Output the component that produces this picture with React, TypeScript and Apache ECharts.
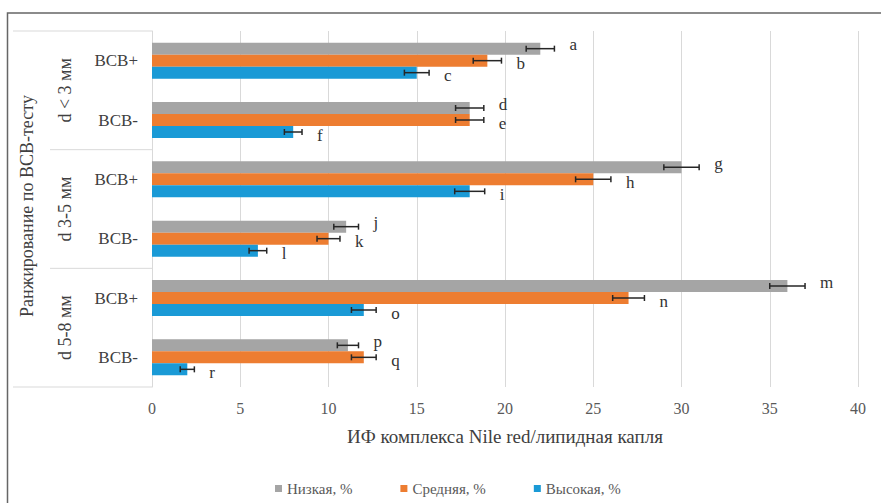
import React, { useEffect, useRef } from 'react';
import * as echarts from 'echarts';

const groups = ['d < 3 мм', 'd 3-5 мм', 'd 5-8 мм'];
const subCategories = ['ВСВ+', 'ВСВ-'];
const categories = groups.flatMap((g) => subCategories.map((s) => `${g}|${s}`));
const seriesNames = ['Низкая, %', 'Средняя, %', 'Высокая, %'];
const lowValues = [22, 18, 30, 11, 36, 11.1];
const midValues = [19, 18, 25, 10, 27, 12];
const highValues = [15, 8, 18, 6, 12, 2];
const lowErrors = [0.8, 0.8, 1.0, 0.7, 1.0, 0.6];
const midErrors = [0.8, 0.8, 1.0, 0.65, 0.9, 0.7];
const highErrors = [0.7, 0.5, 0.85, 0.5, 0.7, 0.4];
const lowLetters = ['a', 'd', 'g', 'j', 'm', 'p'];
const midLetters = ['b', 'e', 'h', 'k', 'n', 'q'];
const highLetters = ['c', 'f', 'i', 'l', 'o', 'r'];
const xMin = 0;
const xMax = 40;
const xInterval = 5;
const xAxisTitle = 'ИФ комплекса Nile red/липидная капля';
const yAxisTitle = 'Ранжирование по ВСВ-тесту';

const colors = ['#a5a5a5', '#ed7d31', '#1a9ad6'];
const FONT = 'Liberation Serif';

const GRID_LEFT = 152;
const GRID_RIGHT = 23;
const GRID_TOP = 31;
const GRID_BOTTOM_Y = 387;
const W = 881;
const H = 503;
const BAR_W = 12;
const LABEL_DY = [-4, 3, 3];

export default function App() {
  const ref = useRef<HTMLDivElement>(null);

  useEffect(() => {
    if (!ref.current) return;
    const chart = echarts.init(ref.current, undefined, { renderer: 'svg' });

    const valueSets = [lowValues, midValues, highValues];
    const errorSets = [lowErrors, midErrors, highErrors];
    const letterSets = [lowLetters, midLetters, highLetters];

    const barSeries = seriesNames.map((name, i) => ({
      type: 'bar',
      name,
      data: valueSets[i],
      barWidth: BAR_W,
      barGap: '0%',
      itemStyle: { color: colors[i] },
      z: 2,
    }));

    const errSeries = seriesNames.map((name, i) => ({
      type: 'custom',
      name: name + ' err',
      z: 10,
      encode: { x: 0, y: 1 },
      data: valueSets[i].map((v, k) => [v, k, errorSets[i][k]]),
      renderItem: (params: any, api: any) => {
        const v = api.value(0);
        const c = api.value(1);
        const e = api.value(2);
        const p0 = api.coord([v - e, c]);
        const p1 = api.coord([v + e, c]);
        const y = p0[1] + (i - 1) * BAR_W;
        const stroke = { stroke: '#262626', lineWidth: 1.5 };
        return {
          type: 'group',
          children: [
            { type: 'line', shape: { x1: p0[0], y1: y, x2: p1[0], y2: y }, style: stroke },
            { type: 'line', shape: { x1: p0[0], y1: y - 3, x2: p0[0], y2: y + 3 }, style: stroke },
            { type: 'line', shape: { x1: p1[0], y1: y - 3, x2: p1[0], y2: y + 3 }, style: stroke },
            {
              type: 'text',
              x: p1[0] + 15,
              y: y + LABEL_DY[i],
              style: {
                text: letterSets[i][params.dataIndex],
                fontFamily: FONT,
                fontSize: 17,
                fill: '#333333',
                align: 'left',
                verticalAlign: 'middle',
              },
            },
          ],
        };
      },
    }));

    const plotH = GRID_BOTTOM_Y - GRID_TOP;
    const catH = plotH / categories.length;
    const lineStyle = { stroke: '#d9d9d9', lineWidth: 1 };

    const graphics: any[] = [
      {
        type: 'polyline',
        shape: { points: [[7.5, H], [7.5, 13], [W, 13]] },
        style: { stroke: '#666666', lineWidth: 1.5, fill: null },
        silent: true,
      },
      { type: 'line', shape: { x1: 13, y1: GRID_TOP, x2: GRID_LEFT, y2: GRID_TOP }, style: lineStyle },
      { type: 'line', shape: { x1: 13, y1: GRID_BOTTOM_Y, x2: GRID_LEFT, y2: GRID_BOTTOM_Y }, style: lineStyle },
      {
        type: 'text',
        x: 27,
        y: GRID_TOP + plotH / 2 - 3,
        rotation: Math.PI / 2,
        style: {
          text: yAxisTitle,
          fontFamily: FONT,
          fontSize: 18,
          fill: '#404040',
          align: 'center',
          verticalAlign: 'middle',
        },
      },
    ];
    groups.forEach((g, gi) => {
      if (gi > 0) {
        const yy = GRID_TOP + gi * 2 * catH;
        graphics.push({ type: 'line', shape: { x1: 50, y1: yy, x2: GRID_LEFT, y2: yy }, style: lineStyle });
      }
      graphics.push({
        type: 'text',
        x: 65,
        y: GRID_TOP + (gi * 2 + 1) * catH,
        rotation: Math.PI / 2,
        style: {
          text: g,
          fontFamily: FONT,
          fontSize: 18,
          fill: '#404040',
          align: 'center',
          verticalAlign: 'middle',
        },
      });
    });

    chart.setOption({
      animation: false,
      backgroundColor: '#ffffff',
      color: colors,
      textStyle: { fontFamily: FONT },
      grid: {
        left: GRID_LEFT,
        right: GRID_RIGHT,
        top: GRID_TOP,
        bottom: H - GRID_BOTTOM_Y,
        containLabel: false,
      },
      legend: {
        data: seriesNames,
        left: 270,
        top: 476,
        icon: 'rect',
        itemWidth: 7,
        itemHeight: 7,
        itemGap: 48,
        textStyle: { fontFamily: FONT, fontSize: 15, color: '#595959' },
      },
      xAxis: {
        type: 'value',
        min: xMin,
        max: xMax,
        interval: xInterval,
        name: xAxisTitle,
        nameLocation: 'middle',
        nameGap: 40,
        nameTextStyle: { fontFamily: FONT, fontSize: 19, color: '#404040' },
        axisLine: { show: false },
        axisTick: { show: false },
        axisLabel: { fontFamily: FONT, fontSize: 16, color: '#595959', margin: 13 },
        splitLine: { show: true, lineStyle: { color: '#d9d9d9', width: 1 } },
      },
      yAxis: {
        type: 'category',
        data: categories,
        inverse: true,
        axisLine: { show: true, lineStyle: { color: '#d9d9d9' } },
        axisTick: { show: false },
        axisLabel: {
          fontFamily: FONT,
          fontSize: 17,
          color: '#404040',
          margin: 14,
          formatter: (v: string) => v.split('|')[1],
        },
      },
      graphic: graphics,
      series: [...barSeries, ...errSeries],
    });

    return () => chart.dispose();
  }, []);

  return (
    <div
      ref={ref}
      style={{ position: 'fixed', left: 0, top: 0, width: W, height: H, background: '#fff' }}
    />
  );
}
